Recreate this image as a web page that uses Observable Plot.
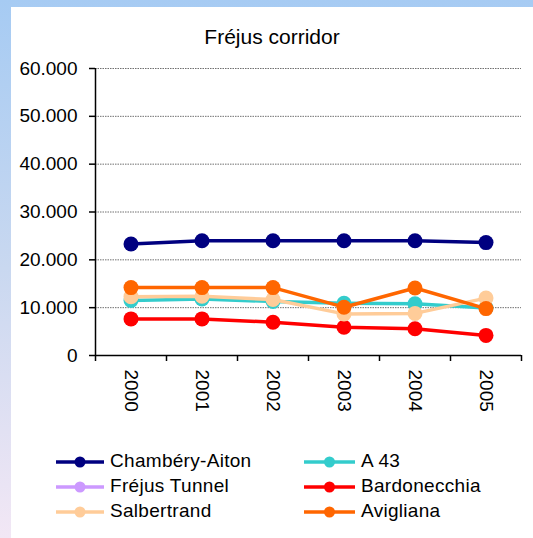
<!DOCTYPE html>
<html>
<head>
<meta charset="utf-8">
<script src="https://cdn.jsdelivr.net/npm/d3@7"></script>
<script src="https://cdn.jsdelivr.net/npm/@observablehq/plot@0.6"></script>
<style>
  html, body { margin: 0; padding: 0; }
  #frame { position: relative; width: 533px; height: 538px; overflow: hidden;
    background: linear-gradient(to bottom, #a6cbf3 0%, #c9d8f0 50%, #f2e7f5 100%);
    font-family: "Liberation Sans", Arial, sans-serif; }
  #panel { position: absolute; left: 11px; top: 7px; right: 0; bottom: 0; background: #fff; }
  #title { position: absolute; left: 11px; right: 0; top: 25px; text-align: center; font-size: 21px; color: #000; }
  #chart { position: absolute; left: 0; top: 0; }
  .leg { position: absolute; font-size: 19px; color: #000; height: 24px; line-height: 24px; white-space: nowrap; letter-spacing: 0.3px; }
  .leg svg { vertical-align: middle; margin-right: 6px; }
</style>
</head>
<body>
<div id="frame">
  <div id="panel"></div>
  <div id="title">Fréjus corridor</div>
  <div id="chart"></div>
  <div id="legend"></div>
</div>
<script>
const years = [2000, 2001, 2002, 2003, 2004, 2005];
const seriesNames = ["Chambéry-Aiton", "A 43", "Fréjus Tunnel", "Bardonecchia", "Salbertrand", "Avigliana"];
const seriesColors = ["#000080", "#33cccc", "#cc99ff", "#ff0000", "#ffcc99", "#ff6600"];
const chamberyAiton = [23300, 24000, 24000, 24000, 24000, 23600];
const a43 = [11500, 11800, 11300, 10900, 10800, 9950];
const frejusTunnel = [null, null, null, null, null, null];
const bardonecchia = [7650, 7650, 6950, 5900, 5600, 4200];
const salbertrand = [12300, 12400, 11700, 8700, 8800, 12000];
const avigliana = [14200, 14200, 14200, 10100, 14100, 9800];
const yTicks = [0, 10000, 20000, 30000, 40000, 50000, 60000];

const seriesValues = [chamberyAiton, a43, frejusTunnel, bardonecchia, salbertrand, avigliana];
const rows = [];
seriesNames.forEach((name, i) => {
  years.forEach((yr, j) => {
    if (seriesValues[i][j] != null) rows.push({series: name, year: yr, value: seriesValues[i][j]});
  });
});

const fmt = d3.formatLocale({decimal: ",", thousands: ".", grouping: [3], currency: ["", ""]}).format(",");
const bounds = [years[0] - 0.5, ...years.map(y => y + 0.5)];

const marks = [
  Plot.gridY(yTicks.filter(d => d > 0), {stroke: "#707070", strokeOpacity: 1, strokeDasharray: "1.5,1"}),
  Plot.ruleX([bounds[0]], {stroke: "#000", strokeWidth: 1.5}),
  Plot.ruleY([0], {stroke: "#000", strokeWidth: 1.5}),
  Plot.axisY({ticks: yTicks, tickFormat: fmt, tickSize: 6, tickPadding: 12, fontSize: 19, stroke: "#000", strokeWidth: 1.5, label: null}),
  Plot.axisX({ticks: bounds, tickFormat: () => "", tickSize: 6, stroke: "#000", strokeWidth: 1.5, label: null}),
  Plot.axisX({ticks: years, tickFormat: d => String(d), tickSize: 0, tickPadding: 14, tickRotate: 90, fontSize: 19, label: null})
];
seriesNames.forEach(name => {
  const d = rows.filter(r => r.series === name);
  marks.push(Plot.line(d, {x: "year", y: "value", stroke: "series", strokeWidth: 3.5}));
  marks.push(Plot.dot(d, {x: "year", y: "value", fill: "series", r: 7.5}));
});

const chart = Plot.plot({
  width: 533,
  height: 430,
  marginLeft: 95,
  marginRight: 12,
  marginTop: 68,
  marginBottom: 75,
  style: {background: "transparent", fontFamily: "'Liberation Sans', Arial, sans-serif", color: "#000"},
  x: {domain: [bounds[0], bounds[bounds.length - 1]], axis: null, label: null},
  y: {domain: [0, 60000], axis: null, label: null},
  color: {type: "ordinal", domain: seriesNames, range: seriesColors},
  marks
});
document.getElementById("chart").appendChild(chart);

// legend
const legend = document.getElementById("legend");
const legPos = [[56, 449], [304, 449], [56, 474], [304, 474], [56, 499], [304, 499]];
seriesNames.forEach((name, i) => {
  const div = document.createElement("div");
  div.className = "leg";
  div.style.left = legPos[i][0] + "px";
  div.style.top = legPos[i][1] + "px";
  const w = i % 2 === 0 ? 48 : 51;
  const c = seriesColors[i];
  div.innerHTML = `<svg width="${w}" height="14"><line x1="0" x2="${w}" y1="7" y2="7" stroke="${c}" stroke-width="3.5"/><circle cx="${w/2}" cy="7" r="5.5" fill="${c}"/></svg>`;
  div.appendChild(document.createTextNode(name));
  legend.appendChild(div);
});
</script>
</body>
</html>
